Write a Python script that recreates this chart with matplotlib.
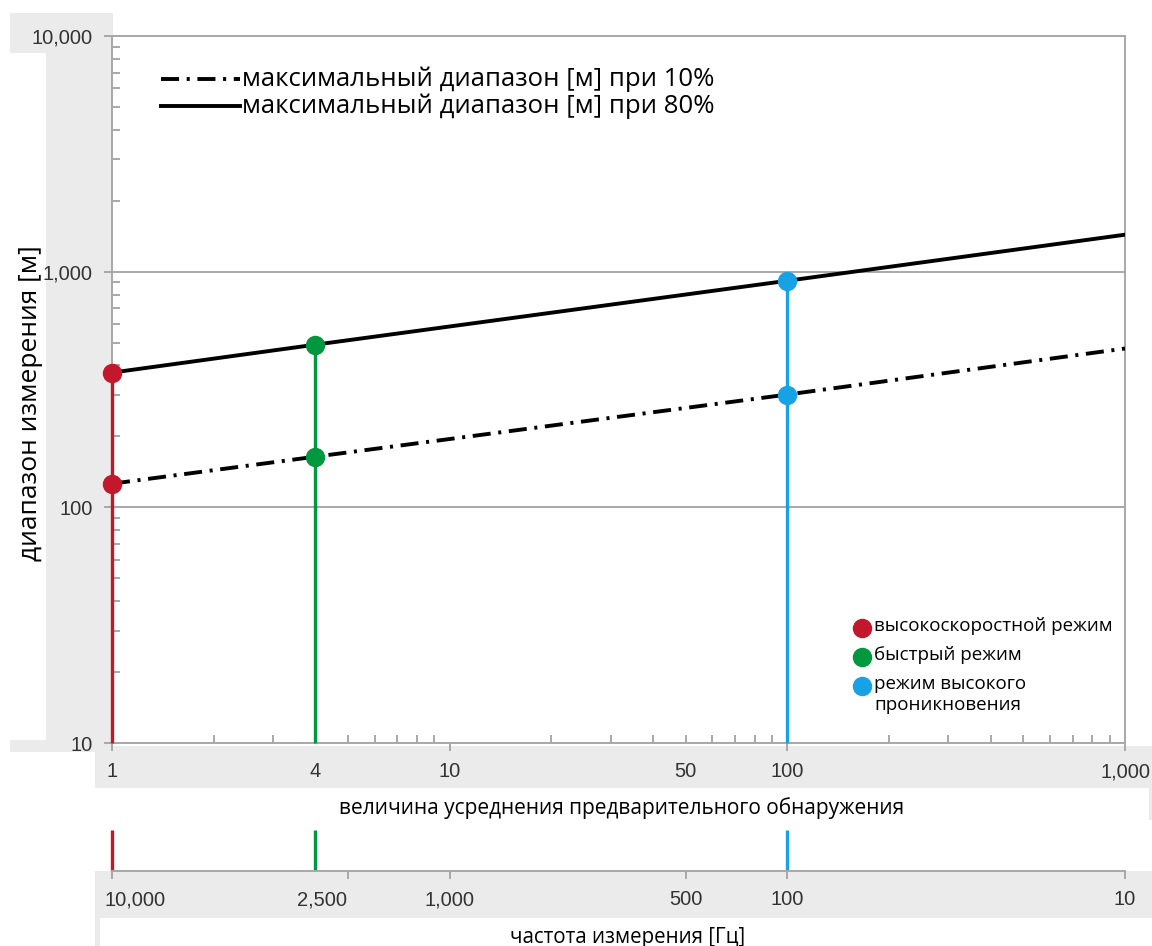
import matplotlib
matplotlib.use("Agg")
import matplotlib.pyplot as plt
from matplotlib.patches import Rectangle
from matplotlib.lines import Line2D
from matplotlib.ticker import LogLocator, NullFormatter

# ---------------- data ----------------
line_x = [1, 4, 100, 1000]
range_80 = [373, 490, 915, 1435]
range_10 = [126, 164, 301, 472]
line_labels = ["максимальный диапазон [м] при 10%", "максимальный диапазон [м] при 80%"]

mode_names = ["высокоскоростной режим", "быстрый режим", "режим высокого\nпроникновения"]
mode_x = [1, 4, 100]
mode_r10 = [126, 164, 301]
mode_r80 = [373, 490, 915]
mode_colors = ["#c3172c", "#00983f", "#16a2e4"]

x_ticks = [1, 4, 10, 50, 100, 1000]
x_tick_labels = ["1", "4", "10", "50", "100", "1,000"]
x_unticked = [4, 50]
y_ticks = [10, 100, 1000, 10000]
y_tick_labels = ["10", "100", "1,000", "10,000"]

freq_ticks = [1, 5, 10, 50, 100, 1000]
freq_tick_labels = ["", "", "1,000", "500", "100", "10"]
freq_extra_pos = [1.17, 4.2]
freq_extra_labels = ["10,000", "2,500"]

xlabel = "величина усреднения предварительного обнаружения"
ylabel = "диапазон измерения [м]"
freq_label = "частота измерения [Гц]"

# ---------------- figure ----------------
plt.rcParams["lines.scale_dashes"] = False
W, H = 1152, 946
fig = plt.figure(figsize=(W / 100, H / 100), dpi=100)
fig.patch.set_facecolor("white")

def fx(px):
    return px / W

def fy(py):
    return 1 - py / H

BG = "#ebebeb"
GRAY = "#a8a8a8"
TXT = "#333333"
TEXT_FONT = ["Open Sans", "DejaVu Sans"]
TICK_FONT = ["Liberation Sans", "DejaVu Sans"]
TICK_SIZE = 14.5
DASHDOT = (0, (13, 5.5, 2.2, 5.5))
LINE_STYLES = [DASHDOT, "-"]

for (x0, y0, x1, y1) in [(10, 13, 113, 53), (46, 53, 113, 752), (10, 740, 113, 752),
                         (95, 746, 1152, 788), (95, 871, 1152, 918), (95, 918, 100, 946),
                         (1149, 788, 1152, 820)]:
    fig.patches.append(Rectangle((fx(x0), fy(y1)), fx(x1) - fx(x0), fy(y0) - fy(y1),
                                 transform=fig.transFigure, facecolor=BG,
                                 edgecolor="none", zorder=-10))

L, R, T, B = 112, 1125, 36, 743
ax = fig.add_axes([fx(L), fy(B), fx(R) - fx(L), fy(T) - fy(B)])
ax.set_facecolor("white")
ax.set_xscale("log")
ax.set_yscale("log")
ax.set_xlim(1, 1000)
ax.set_ylim(10, 10000)

for s in ax.spines.values():
    s.set_color(GRAY)
    s.set_linewidth(1.4)

ax.yaxis.grid(True, which="major", color=GRAY, linewidth=1.4)
ax.set_axisbelow(True)

ax.xaxis.remove_overlapping_locs = False
ax.set_xticks(x_ticks, labels=x_tick_labels)
ax.set_yticks(y_ticks, labels=y_tick_labels)
ax.xaxis.set_minor_locator(LogLocator(base=10, subs=range(2, 10), numticks=20))
ax.yaxis.set_minor_locator(LogLocator(base=10, subs=range(2, 10), numticks=20))
ax.xaxis.set_minor_formatter(NullFormatter())
ax.yaxis.set_minor_formatter(NullFormatter())
ax.tick_params(which="major", direction="out", length=6, width=1.4, color=GRAY,
               labelcolor=TXT, labelsize=TICK_SIZE, pad=8)
ax.tick_params(which="minor", direction="in", length=6, width=1.4, color=GRAY)
for t in ax.get_xticklabels() + ax.get_yticklabels():
    t.set_family(TICK_FONT)
for tick, loc in zip(ax.xaxis.get_major_ticks(), x_ticks):
    if loc in x_unticked:
        tick.tick1line.set_visible(False)

# vertical mode lines
for xm, ym, c in zip(mode_x, mode_r80, mode_colors):
    ax.vlines(xm, 10, ym, color=c, linewidth=2.4, zorder=3, clip_on=False)

lines = []
for yv, lab, ls in zip([range_10, range_80], line_labels, LINE_STYLES):
    ln, = ax.plot(line_x, yv, color="black", linewidth=2.8, linestyle=ls,
                  label=lab, zorder=4)
    lines.append(ln)

mode_handles = []
for xm, a, b, c, name in zip(mode_x, mode_r10, mode_r80, mode_colors, mode_names):
    h, = ax.plot([xm, xm], [a, b], linestyle="none", marker="o", markersize=13,
                 color=c, label=name, zorder=5, clip_on=False)
    mode_handles.append(h)

# legend for the range lines (drawn in figure pixels)
for i, (h, ls) in enumerate(zip(lines, LINE_STYLES)):
    yc = 79 + i * 27
    fig.add_artist(Line2D([fx(161), fx(240)], [fy(yc), fy(yc)], transform=fig.transFigure,
                          color=h.get_color(), linewidth=h.get_linewidth(), linestyle=ls))
    fig.text(fx(242), fy(yc), h.get_label(), ha="left", va="center",
             family=TEXT_FONT, size=18.5, color="black")

# legend for the modes
for i, h in enumerate(mode_handles):
    yc = 628 + i * 29
    fig.add_artist(Line2D([fx(862)], [fy(yc)], transform=fig.transFigure,
                          linestyle="none", marker="o", markersize=h.get_markersize(),
                          color=h.get_color()))
    fig.text(fx(874), fy(yc - 11), h.get_label(), ha="left", va="top",
             family=TEXT_FONT, size=13.5, color="black", linespacing=1.2)

# secondary (frequency) axis
B2, T2 = 871, 830
ax2 = fig.add_axes([fx(L), fy(B2), fx(R) - fx(L), fy(T2) - fy(B2)])
ax2.set_facecolor("none")
ax2.set_xscale("log")
ax2.set_xlim(1, 1000)
ax2.set_ylim(0, 1)
for k in ["top", "left", "right"]:
    ax2.spines[k].set_visible(False)
ax2.spines["bottom"].set_color(GRAY)
ax2.spines["bottom"].set_linewidth(1.4)
ax2.set_yticks([])
ax2.xaxis.remove_overlapping_locs = False
ax2.set_xticks(freq_ticks, labels=freq_tick_labels)
ax2.set_xticks(freq_extra_pos, labels=freq_extra_labels, minor=True)
ax2.tick_params(which="major", direction="out", length=6, width=1.4, color=GRAY,
                labelcolor=TXT, labelsize=TICK_SIZE, pad=8)
ax2.tick_params(which="minor", length=0, labelcolor=TXT, labelsize=TICK_SIZE, pad=14)
for t in ax2.get_xticklabels() + ax2.get_xticklabels(minor=True):
    t.set_family(TICK_FONT)
for xm, c in zip(mode_x, mode_colors):
    ax2.vlines(xm, 0, 1, color=c, linewidth=2.4, clip_on=False)

fig.text(fx(31), fy(403), ylabel, rotation=90, ha="center", va="center",
         family=TEXT_FONT, size=19, color="black")
fig.text(fx(622), fy(808), xlabel, ha="center", va="center",
         family=TEXT_FONT, size=15, color="black")
fig.text(fx(628), fy(937), freq_label, ha="center", va="center",
         family=TEXT_FONT, size=14.8, color="black")

fig.savefig("out.png", dpi=100, facecolor="white")
